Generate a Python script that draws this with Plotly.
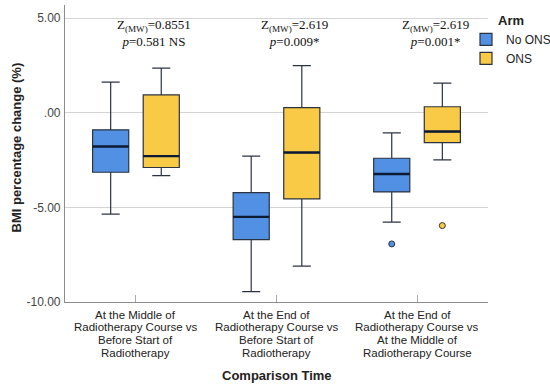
import plotly.graph_objects as go

# ---- data ----
categories = [
    ["At the Middle of", "Radiotherapy Course vs", "Before Start of", "Radiotherapy"],
    ["At the End of", "Radiotherapy Course vs", "Before Start of", "Radiotherapy"],
    ["At the End of", "Radiotherapy Course vs", "At the Middle of", "Radiotherapy Course"],
]
arms = ["No ONS", "ONS"]

no_ons_lower = [-5.36, -9.45, -5.78]
no_ons_q1 = [-3.14, -6.70, -4.18]
no_ons_median = [-1.78, -5.50, -3.23]
no_ons_q3 = [-0.90, -4.22, -2.40]
no_ons_upper = [1.62, -2.29, -1.06]
no_ons_outliers = [None, None, -6.93]

ons_lower = [-3.32, -8.10, -2.49]
ons_q1 = [-2.89, -4.55, -1.57]
ons_median = [-2.29, -2.10, -0.99]
ons_q3 = [0.95, 0.28, 0.32]
ons_upper = [2.36, 2.50, 1.57]
ons_outliers = [None, None, -5.96]

z_text = ["Z<sub>(MW)</sub>=0.8551", "Z<sub>(MW)</sub>=2.619", "Z<sub>(MW)</sub>=2.619"]
p_text = ["<i>p</i>=0.581 NS", "<i>p</i>=0.009*", "<i>p</i>=0.001*"]

y_tickvals = [5, 0, -5, -10]
y_ticktext = ["5.00", ".00", "-5.00", "-10.00"]

# ---- style ----
colors = {"No ONS": "#5290E3", "ONS": "#F8CA45"}
edge = "#2c3340"
box_w = 0.257
offset = 0.18
sans = "Liberation Sans, Arial, sans-serif"
serif = "Liberation Serif, Times New Roman, serif"

series = {
    "No ONS": (no_ons_lower, no_ons_q1, no_ons_median, no_ons_q3, no_ons_upper, no_ons_outliers, -offset),
    "ONS": (ons_lower, ons_q1, ons_median, ons_q3, ons_upper, ons_outliers, offset),
}

fig = go.Figure()
for arm in arms:
    lo, q1, med, q3, up, outl, off = series[arm]
    xs = [i + off for i in range(len(categories))]
    fig.add_trace(go.Box(
        name=arm, x=xs, q1=q1, median=med, q3=q3, lowerfence=lo, upperfence=up,
        width=box_w, whiskerwidth=0.5, fillcolor=colors[arm],
        line=dict(color=edge, width=1.2), boxpoints=False, showlegend=True,
    ))
    mx, my = [], []
    for x, m in zip(xs, med):
        mx += [x - box_w / 2, x + box_w / 2, None]
        my += [m, m, None]
    fig.add_trace(go.Scatter(x=mx, y=my, mode="lines", line=dict(color="#0d1a33", width=2.4),
                             showlegend=False, hoverinfo="skip"))
    ox = [x for x, o in zip(xs, outl) if o is not None]
    oy = [o for o in outl if o is not None]
    fig.add_trace(go.Scatter(x=ox, y=oy, mode="markers",
                             marker=dict(size=6, color=colors[arm], line=dict(color=edge, width=1)),
                             showlegend=False, hoverinfo="skip"))

annotations = []
for i, lines in enumerate(categories):
    for j, line in enumerate(lines):
        annotations.append(dict(x=i, y=0, xref="x", yref="paper", text=line, showarrow=False,
                                xanchor="center", yanchor="middle", yshift=-12.5 - 12.9 * j,
                                font=dict(family=sans, size=11.5, color="#222")))
    annotations.append(dict(x=i + 0.13, y=4.23, xref="x", yref="y",
                            text=z_text[i] + "<br>" + p_text[i], showarrow=False,
                            xanchor="center", yanchor="middle",
                            font=dict(family=serif, size=13, color="#111")))

annotations.append(dict(x=0.5, y=0, xref="paper", yref="paper", text="<b>Comparison Time</b>",
                        showarrow=False, xanchor="center", yanchor="middle", yshift=-73,
                        font=dict(family=sans, size=13, color="#222")))
annotations.append(dict(x=0, y=0.5, xref="paper", yref="paper", text="<b>BMI percentage change (%)</b>",
                        showarrow=False, textangle=-90, xanchor="center", yanchor="middle", xshift=-49,
                        yshift=6, font=dict(family=sans, size=13, color="#222")))

fig.update_layout(
    width=550, height=391,
    margin=dict(l=65, r=62, t=5, b=89, autoexpand=False),
    paper_bgcolor="white", plot_bgcolor="white",
    showlegend=True,
    legend=dict(title=dict(text="<b>Arm</b>", side="top center", font=dict(family=sans, size=13, color="#222")),
                x=0.948, xanchor="left", y=0.99, yanchor="top",
                font=dict(family=sans, size=12, color="#222"), itemwidth=30,
                tracegroupgap=0, bgcolor="rgba(0,0,0,0)"),
    annotations=annotations,
)
fig.update_xaxes(range=[-0.505, 2.505], tickvals=[0, 1, 2], showticklabels=False,
                 ticks="inside", ticklen=7, tickcolor="#aaaaaa",
                 showline=True, linecolor="#8c8c8c", linewidth=1.2, showgrid=False, zeroline=False)
fig.update_yaxes(range=[-10, 5.7], tickvals=y_tickvals, ticktext=y_ticktext,
                 tickfont=dict(family=sans, size=12, color="#444"), ticklabelstandoff=1,
                 showline=True, linecolor="#8c8c8c", linewidth=1.2,
                 showgrid=True, gridcolor="#d4d4d4", gridwidth=1, zeroline=False)

fig.write_html("out.html", config={"displayModeBar": False},
               post_script="document.body.style.margin='0px';")
